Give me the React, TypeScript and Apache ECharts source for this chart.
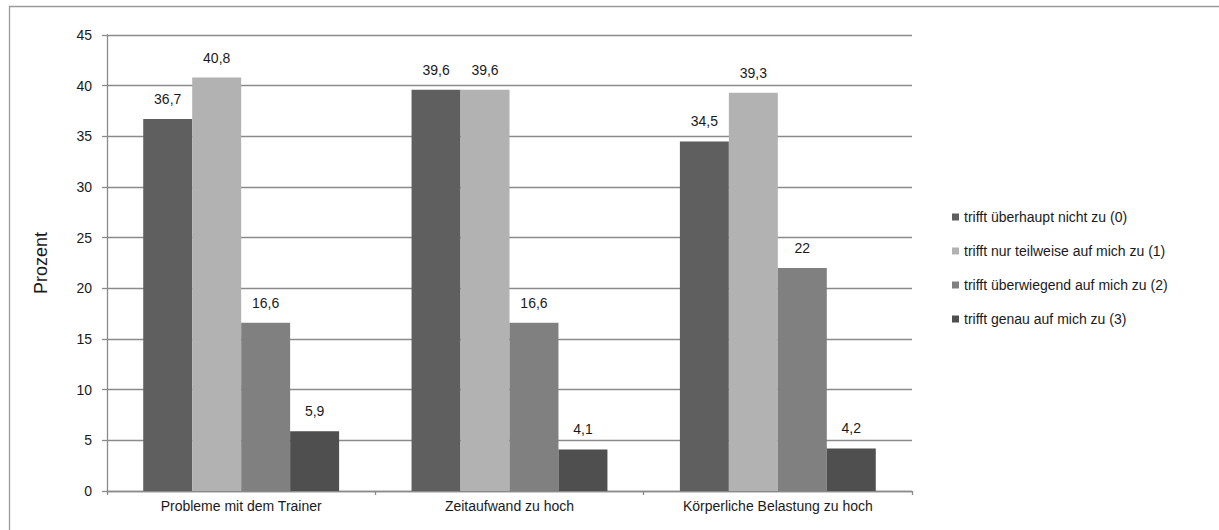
import React, { useEffect, useRef } from "react";
import * as echarts from "echarts";

const categories = ["Probleme mit dem Trainer", "Zeitaufwand zu hoch", "Körperliche Belastung zu hoch"];
const seriesNames = [
  "trifft überhaupt nicht zu (0)",
  "trifft nur teilweise auf mich zu (1)",
  "trifft überwiegend auf mich zu (2)",
  "trifft genau auf mich zu (3)",
];
const values0 = [36.7, 39.6, 34.5];
const values1 = [40.8, 39.6, 39.3];
const values2 = [16.6, 16.6, 22];
const values3 = [5.9, 4.1, 4.2];
const seriesValues = [values0, values1, values2, values3];
const colors = ["#5f5f5f", "#b2b2b2", "#808080", "#4f4f4f"];

const FONT = "'Liberation Sans', Arial, sans-serif";

export default function App() {
  const ref = useRef<HTMLDivElement>(null);
  useEffect(() => {
    if (!ref.current) return;
    const chart = echarts.init(ref.current, null, { renderer: "svg" });
    chart.setOption({
      animation: false,
      backgroundColor: "#ffffff",
      textStyle: { fontFamily: FONT },
      graphic: [
        {
          type: "rect",
          shape: { x: 9.5, y: 6.5, width: 1300, height: 700 },
          style: { fill: "none", stroke: "#9a9a9a", lineWidth: 1.3 },
          silent: true,
          z: -1,
        },
      ],
      grid: { left: 107, right: 307, top: 35, bottom: 39 },
      legend: {
        orient: "vertical",
        left: 947,
        top: 205,
        itemWidth: 7,
        itemHeight: 7,
        itemGap: 20,
        icon: "rect",
        textStyle: { fontFamily: FONT, fontSize: 14, color: "#1a1a1a", lineHeight: 14 },
        data: seriesNames,
      },
      xAxis: {
        type: "category",
        data: categories,
        axisLine: { lineStyle: { color: "#8a8a8a", width: 1.3 } },
        axisTick: { show: true, length: 4, alignWithLabel: false, lineStyle: { color: "#8a8a8a", width: 1.3 } },
        axisLabel: { fontFamily: FONT, fontSize: 14, color: "#1a1a1a", margin: 8 },
      },
      yAxis: {
        type: "value",
        min: 0,
        max: 45,
        interval: 5,
        name: "Prozent",
        nameLocation: "middle",
        nameGap: 57,
        nameTextStyle: { fontFamily: FONT, fontSize: 18, color: "#1a1a1a" },
        axisLine: { show: true, lineStyle: { color: "#8a8a8a", width: 1.3 } },
        axisTick: { show: true, length: 5, lineStyle: { color: "#8a8a8a", width: 1.3 } },
        axisLabel: { fontFamily: FONT, fontSize: 14, color: "#1a1a1a", margin: 15 },
        splitLine: { show: true, lineStyle: { color: "#8a8a8a", width: 1.3 } },
      },
      series: seriesNames.map((name, i) => ({
        name,
        type: "bar",
        data: seriesValues[i],
        barGap: "0%",
        barCategoryGap: "27%",
        itemStyle: { color: colors[i] },
        label: {
          show: true,
          position: "top",
          distance: 13,
          fontFamily: FONT,
          fontSize: 14,
          color: "#1a1a1a",
          formatter: (p: any) => String(p.value).replace(".", ","),
        },
      })),
    });
    return () => chart.dispose();
  }, []);
  return <div ref={ref} style={{ position: "absolute", left: 0, top: 0, width: 1219, height: 530 }} />;
}
